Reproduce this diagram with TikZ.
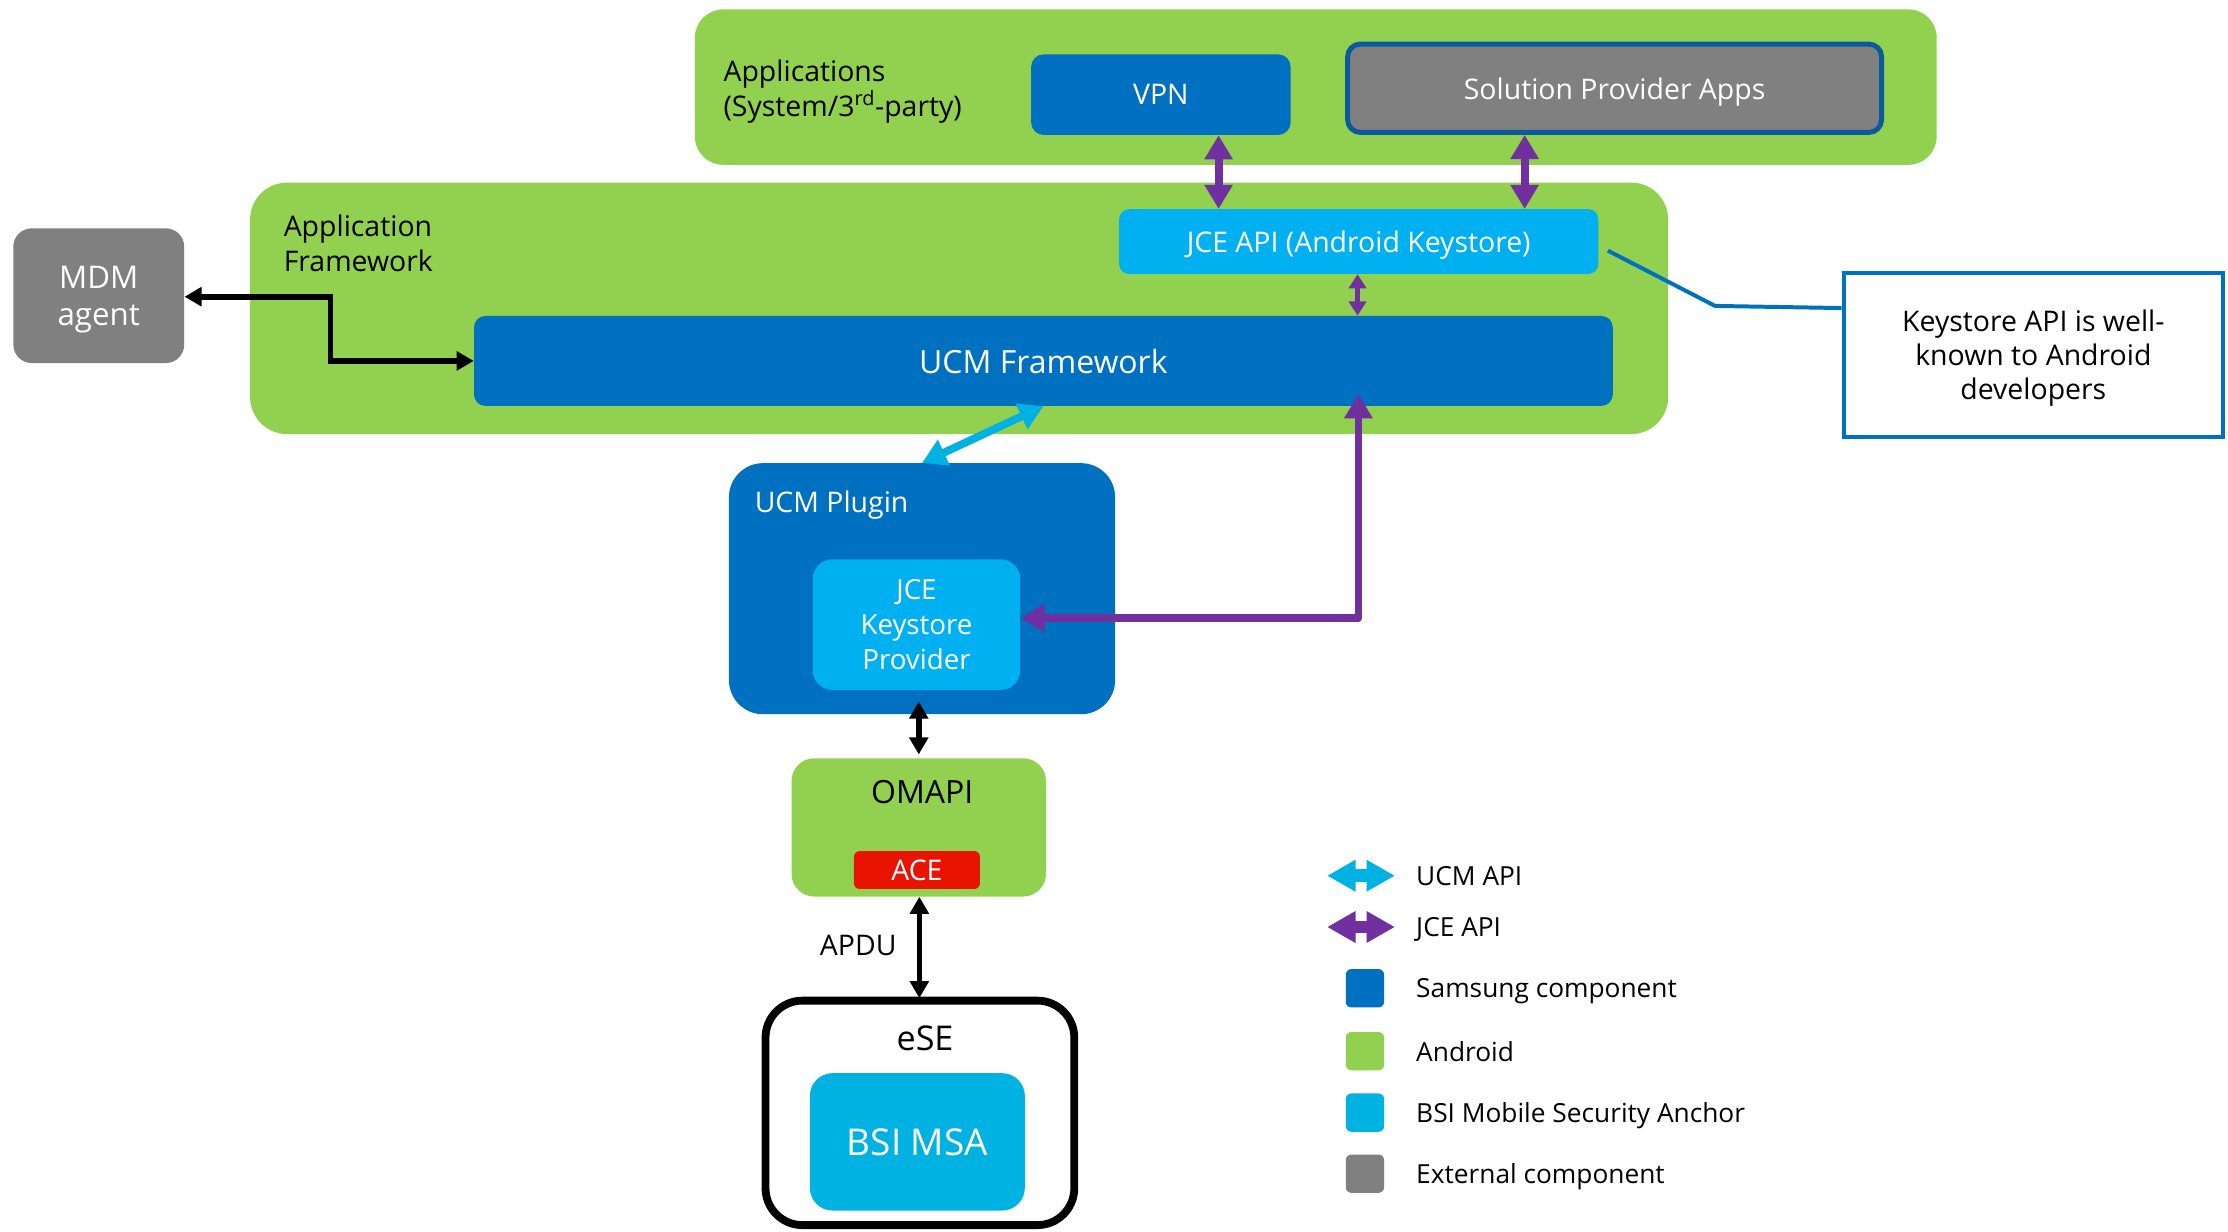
\documentclass[tikz,border=0pt]{standalone}
\usepackage{fontspec}
\setmainfont{Open Sans}
\usetikzlibrary{arrows.meta}
\definecolor{andgreen}{HTML}{92D050}
\definecolor{samblue}{HTML}{0070C0}
\definecolor{bsicyan}{HTML}{00B0F0}
\definecolor{msacyan}{HTML}{00B2E2}
\definecolor{extgray}{HTML}{808080}
\definecolor{jcepurple}{HTML}{7030A0}
\definecolor{acered}{HTML}{E81300}
\definecolor{spaborder}{HTML}{0B5A9C}
\newcommand\fsz[2]{\fontsize{#1}{#2}\selectfont}
\begin{document}
\begin{tikzpicture}[x=1pt,y=-1pt,
  box/.style={rectangle, inner sep=0pt, align=center, text=white, text depth=0pt, font=\fsz{20}{24.5}},
  lbl/.style={inner sep=0pt, align=left, text=black, text depth=0pt, font=\fsz{20}{24.5}},
  jcearrow/.style={draw=jcepurple, line width=5.5pt, {Triangle[length=17pt,width=19pt]}-{Triangle[length=17pt,width=19pt]}},
  jcesmall/.style={draw=jcepurple, line width=4pt, {Triangle[length=10pt,width=12pt]}-{Triangle[length=10pt,width=12pt]}},
  ucmarrow/.style={draw=msacyan, line width=5.5pt, {Triangle[length=17pt,width=19pt]}-{Triangle[length=17pt,width=19pt]}},
  blkarrow/.style={draw=black, line width=4pt, {Triangle[length=12pt,width=13pt]}-{Triangle[length=12pt,width=13pt]}},
  legjce/.style={draw=jcepurple, line width=9pt, {Triangle[length=20pt,width=21pt]}-{Triangle[length=20pt,width=21pt]}},
  legucm/.style={draw=msacyan, line width=9pt, {Triangle[length=20pt,width=21pt]}-{Triangle[length=20pt,width=21pt]}},
  legsq/.style={rectangle, rounded corners=4pt, minimum width=27pt, minimum height=27pt, inner sep=0pt},
  legtext/.style={anchor=west, inner sep=0pt, text depth=0pt, font=\fsz{18.5}{23}}
]
\useasboundingbox[fill=white] (0,0) rectangle (1568,867);

% containers
\node[box, fill=andgreen, rounded corners=20pt, minimum width=874pt, minimum height=109.4pt] (apps) at (926,61.3) {};
\node[box, fill=andgreen, rounded corners=26pt, minimum width=998pt, minimum height=177pt] (appfw) at (675,217) {};
\node[lbl, anchor=west] (appslbl) at (509,62) {Applications\\(System/3\textsuperscript{rd}-party)};
\node[lbl, anchor=west] (appfwlbl) at (199.5,171) {Application\\Framework};

% application level
\node[box, fill=samblue, rounded corners=9pt, minimum width=182.7pt, minimum height=56.8pt] (vpn) at (817,66.6) {VPN};
\node[box, fill=extgray, draw=spaborder, line width=3.5pt, rounded corners=9pt, minimum width=375.8pt, minimum height=62.2pt] (spa) at (1136.3,62.1) {Solution Provider Apps};

% framework level
\node[box, fill=bsicyan, rounded corners=7pt, minimum width=337.2pt, minimum height=45.5pt] (jceapi) at (956.2,170) {JCE API (Android Keystore)};
\node[box, fill=samblue, rounded corners=8pt, minimum width=801.4pt, minimum height=63.3pt, font=\fsz{22.5}{26}] (ucmfw) at (734.3,254) {UCM Framework};
\node[box, fill=extgray, rounded corners=13pt, minimum width=120.3pt, minimum height=94.8pt, font=\fsz{22}{26}] (mdm) at (69.5,208.1) {MDM\\agent};

% plugin
\node[box, fill=samblue, rounded corners=24pt, minimum width=271.8pt, minimum height=176.7pt] (plugin) at (648.9,414.3) {};
\node[lbl, anchor=west, text=white] (pluginlbl) at (531,353) {UCM Plugin};
\node[box, fill=bsicyan, rounded corners=14pt, minimum width=146pt, minimum height=92pt, font=\fsz{19.5}{24.8}] (jceprov) at (645,439.6) {JCE\\Keystore\\Provider};

% OMAPI
\node[box, fill=andgreen, rounded corners=16pt, minimum width=179.1pt, minimum height=97.3pt] (omapi) at (646.6,582.3) {};
\node[lbl, align=center, font=\fsz{22.5}{26}] (omapilbl) at (649,557) {OMAPI};
\node[box, fill=acered, rounded corners=4pt, minimum width=88.7pt, minimum height=26.6pt] (ace) at (645.3,612.3) {ACE};

% eSE
\node[box, fill=white, draw=black, line width=5.5pt, rounded corners=26pt, minimum width=217.3pt, minimum height=158pt] (ese) at (647.4,783.2) {};
\node[lbl, align=center, font=\fsz{24}{28}] (eselbl) at (651,730.5) {eSE};
\node[box, fill=msacyan, rounded corners=16pt, minimum width=151.3pt, minimum height=96.7pt, font=\fsz{26}{30}] (bsimsa) at (645.6,803.6) {BSI MSA};
\node[lbl, align=center] (apdu) at (604,665) {APDU};

% note
\node[box, fill=white, draw=samblue, line width=2.8pt, minimum width=267.2pt, minimum height=115.7pt, text=black, font=\fsz{20}{24}] (note) at (1431,249.7) {Keystore API is well-\\known to Android\\developers};

% helper coordinates
\coordinate (cvpn) at (857.6,0);
\coordinate (cspa) at (1073,0);
\coordinate (cjce) at (955.4,0);
\coordinate (cret) at (956,0);
\coordinate (cmdm) at (232.5,0);
\coordinate (k1) at (1131.6,176.4);
\coordinate (k2) at (1207,215.3);
\coordinate (k3) at (0,216.8);

% connectors
\draw[jcearrow] (vpn.south -| cvpn) -- (jceapi.north -| cvpn);
\draw[jcearrow] (spa.south -| cspa) -- (jceapi.north -| cspa);
\draw[jcesmall] (jceapi.south -| cjce) -- (ucmfw.north -| cjce);
\draw[jcearrow, line join=round, shorten >=-8.5pt] (jceprov.east |- 0,435) -| (ucmfw.south -| cret);
\draw[ucmarrow] (ucmfw.south) -- (plugin.north);
\draw[blkarrow, line join=miter] (mdm.east |- 0,208.8) -| (ucmfw.west -| cmdm) -- (ucmfw.west);
\draw[blkarrow, shorten <=8pt, shorten >=2.5pt] (jceprov.south -| 646.6,0) -- (omapi.north -| 646.6,0);
\draw[blkarrow, shorten >=-1pt] (omapi.south -| 647,0) -- (ese.north -| 647,0);
\draw[draw=samblue, line width=2.8pt] (k1) -- (k2) -- (note.west |- k3);

% legend
\coordinate (lu1) at (934,616.3);
\coordinate (lu2) at (981.7,616.3);
\coordinate (lj1) at (934,652.4);
\coordinate (lj2) at (981.7,652.4);
\draw[legucm] (lu1) -- (lu2);
\draw[legjce] (lj1) -- (lj2);
\node[legtext] (lt0) at (996.5,616.3) {UCM API};
\node[legtext] (lt00) at (996.5,652.4) {JCE API};
\node[legsq, fill=samblue] (ls1) at (960.6,695.5) {};
\node[legsq, fill=andgreen] (ls2) at (960.6,739.8) {};
\node[legsq, fill=msacyan] (ls3) at (960.6,783) {};
\node[legsq, fill=extgray] (ls4) at (960.6,826) {};
\node[legtext] (lt1) at (996.5,695.5) {Samsung component};
\node[legtext] (lt2) at (996.5,739.8) {Android};
\node[legtext] (lt3) at (996.5,783) {BSI Mobile Security Anchor};
\node[legtext] (lt4) at (996.5,826) {External component};
\end{tikzpicture}
\end{document}
